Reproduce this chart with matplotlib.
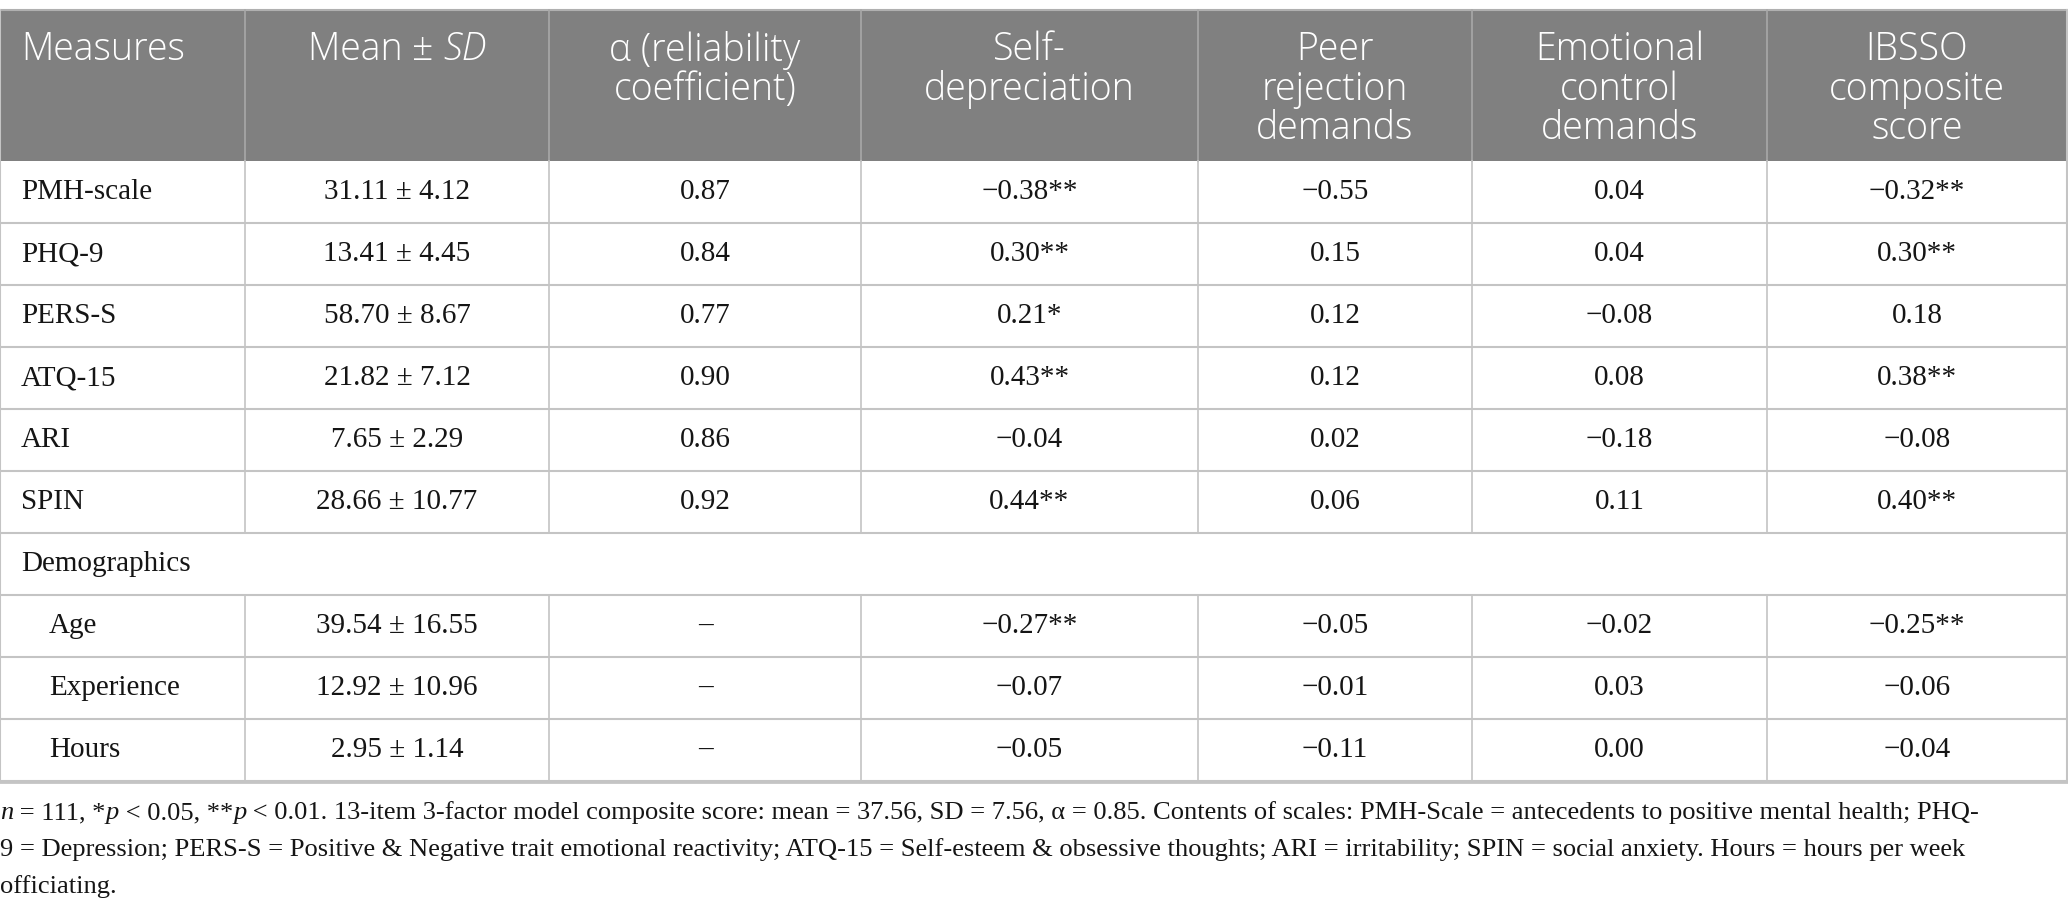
import matplotlib
matplotlib.use("Agg")
import matplotlib.pyplot as plt

# table content
headers = ["Measures", None, "α (reliability\ncoefficient)", "Self-\ndepreciation",
           "Peer\nrejection\ndemands", "Emotional\ncontrol\ndemands", "IBSSO\ncomposite\nscore"]

measures = ["PMH-scale", "PHQ-9", "PERS-S", "ATQ-15", "ARI", "SPIN"]
demo = ["Age", "Experience", "Hours"]

mean_vals = [31.11, 13.41, 58.70, 21.82, 7.65, 28.66, 39.54, 12.92, 2.95]
sd_vals = [4.12, 4.45, 8.67, 7.12, 2.29, 10.77, 16.55, 10.96, 1.14]
alpha = [0.87, 0.84, 0.77, 0.90, 0.86, 0.92]

self_dep = [-0.38, 0.30, 0.21, 0.43, -0.04, 0.44, -0.27, -0.07, -0.05]
self_dep_sig = ["**", "**", "*", "**", "", "**", "**", "", ""]
peer = [-0.55, 0.15, 0.12, 0.12, 0.02, 0.06, -0.05, -0.01, -0.11]
emo = [0.04, 0.04, -0.08, 0.08, -0.18, 0.11, -0.02, 0.03, 0.00]
ibsso = [-0.32, 0.30, 0.18, 0.38, -0.08, 0.40, -0.25, -0.06, -0.04]
ibsso_sig = ["**", "**", "", "**", "", "**", "**", "", ""]

foot1 = [("n", "italic"), (" = 111, *", "normal"), ("p", "italic"), (" < 0.05, **", "normal"),
         ("p", "italic"), (" < 0.01. 13-item 3-factor model composite score: mean = 37.56, SD = 7.56, "
                           "α = 0.85. Contents of scales: PMH-Scale = antecedents to positive mental health; PHQ-", "normal")]
foot2 = "9 = Depression; PERS-S = Positive & Negative trait emotional reactivity; ATQ-15 = Self-esteem & obsessive thoughts; ARI = irritability; SPIN = social anxiety. Hours = hours per week"
foot3 = "officiating."

W, H = 2068, 911
col_x = [0, 245, 549, 861, 1198, 1472, 1767, 2067]
top = 10
head_bot = 161
row_h = 62

SERIF = "Liberation Serif"
SANS = "Open Sans"
BODY = 21
HEAD = 27
FOOT = 19.05


def fmt(v):
    s = "%.2f" % abs(v)
    return ("−" + s) if v < 0 else s


fig = plt.figure(figsize=(W / 100, H / 100), dpi=100)
ax = fig.add_axes([0, 0, 1, 1])
ax.set_xlim(0, W)
ax.set_ylim(H, 0)
ax.axis("off")
renderer = fig.canvas.get_renderer()


def text_w(s, **kw):
    t1 = ax.text(0, 0, s + "x", **kw)
    t2 = ax.text(0, 0, "x", **kw)
    w = t1.get_window_extent(renderer).width - t2.get_window_extent(renderer).width
    t1.remove()
    t2.remove()
    return w


def runs(x, y, parts, ha="left", **kw):
    widths = [text_w(s, style=st, **kw) for s, st in parts]
    total = sum(widths)
    x0 = x - total / 2 if ha == "center" else x
    for (s, st), w in zip(parts, widths):
        ax.text(x0, y, s, style=st, ha="left", va="center", **kw)
        x0 += w


# header background
ax.fill_between([0, W], top, head_bot, color="#808080", lw=0)
ax.plot([0, W], [top, top], color="#b0b0b0", lw=1.5)
for x in col_x[1:-1]:
    ax.plot([x, x], [top, head_bot], color="#a8a8a8", lw=1.2)

line_y = [50, 89.5, 129]
hk = dict(family=SANS, fontsize=HEAD, color="white", fontweight="light")
for i, h in enumerate(headers):
    cx = (col_x[i] + col_x[i + 1]) / 2
    if i == 0:
        ax.text(21, line_y[0], h, ha="left", va="center", **hk)
    elif h is None:
        runs(cx, line_y[0], [("Mean ", "normal"), ("±", "normal"), (" ", "normal"), ("SD", "italic")],
             ha="center", **hk)
    else:
        for j, ln in enumerate(h.split("\n")):
            ax.text(cx, line_y[j], ln, ha="center", va="center", **hk)

# body rows
grid = "#c4c4c4"
n_rows = 10
bottoms = [head_bot + row_h * (k + 1) for k in range(n_rows)]
for yb in bottoms:
    ax.plot([0, W], [yb, yb], color=grid, lw=1.5)
ax.plot([0, 0], [top, bottoms[-1]], color=grid, lw=1.5)
ax.plot([W - 1, W - 1], [top, bottoms[-1]], color=grid, lw=1.5)

bk = dict(family=SERIF, fontsize=BODY, color="#151515", va="center")

labels = measures + ["Demographics"] + demo
data_idx = list(range(6)) + [None] + list(range(6, 9))
for r, (lab, di) in enumerate(zip(labels, data_idx)):
    y0 = head_bot + row_h * r
    yc = y0 + row_h / 2
    if di is None:
        ax.text(21, yc, lab, ha="left", **bk)
        continue
    for x in col_x[1:-1]:
        ax.plot([x, x], [y0, y0 + row_h], color=grid, lw=1.2)
    ax.text(49 if di >= 6 else 21, yc, lab, ha="left", **bk)
    cells = ["%.2f ± %.2f" % (mean_vals[di], sd_vals[di]),
             "%.2f" % alpha[di] if di < 6 else "–",
             fmt(self_dep[di]) + self_dep_sig[di],
             fmt(peer[di]),
             fmt(emo[di]),
             fmt(ibsso[di]) + ibsso_sig[di]]
    for c, s in enumerate(cells):
        cx = (col_x[c + 1] + col_x[c + 2]) / 2
        ax.text(cx, yc, s, ha="center", **bk)

ax.plot([0, W], [bottoms[-1] + 1, bottoms[-1] + 1], color=grid, lw=2)

# footnote
fk = dict(family=SERIF, fontsize=FOOT, color="#151515")
runs(0, 813, foot1, **fk)
ax.text(0, 850, foot2, ha="left", va="center", **fk)
ax.text(0, 887, foot3, ha="left", va="center", **fk)

fig.savefig("out.png", dpi=100)
